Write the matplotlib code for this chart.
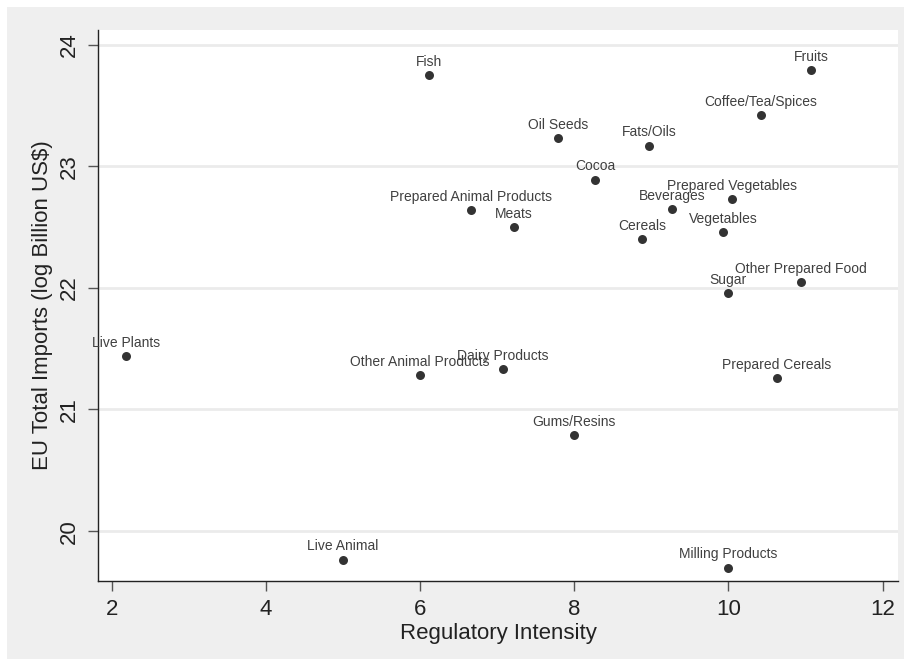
import matplotlib
matplotlib.use("Agg")
import matplotlib.pyplot as plt
from matplotlib.patches import Rectangle

plt.rcParams['font.family'] = ['Liberation Sans', 'DejaVu Sans']

categories = ["Fish", "Fruits", "Coffee/Tea/Spices", "Oil Seeds", "Fats/Oils", "Cocoa",
              "Prepared Animal Products", "Beverages", "Prepared Vegetables", "Meats",
              "Cereals", "Vegetables", "Other Prepared Food", "Sugar", "Live Plants",
              "Other Animal Products", "Dairy Products", "Prepared Cereals", "Gums/Resins",
              "Live Animal", "Milling Products"]
regulatory_intensity = [6.11, 11.07, 10.42, 7.79, 8.97, 8.27,
                        6.66, 9.27, 10.04, 7.22,
                        8.88, 9.93, 10.94, 10.00, 2.18,
                        6.00, 7.07, 10.63, 8.00,
                        5.00, 10.00]
eu_imports = [23.75, 23.79, 23.42, 23.23, 23.17, 22.89,
              22.64, 22.65, 22.73, 22.50,
              22.40, 22.46, 22.05, 21.955, 21.44,
              21.28, 21.33, 21.26, 20.79,
              19.765, 19.70]
x_ticks = [2, 4, 6, 8, 10, 12]
y_ticks = [20, 21, 22, 23, 24]

fig = plt.figure(figsize=(9.11, 6.66), dpi=100)
fig.patch.set_facecolor("white")
fig.patches.append(Rectangle((7/911, 7/666), 897/911, 652/666, transform=fig.transFigure,
                             facecolor="#efefef", edgecolor="none", zorder=-10))
ax = fig.add_axes([98/911, (666-581)/666, 800/911, 551/666])
ax.set_facecolor("white")

ax.scatter(regulatory_intensity, eu_imports, s=42, color="#333333", zorder=3, linewidths=0)
for name, xv, yv in zip(categories, regulatory_intensity, eu_imports):
    ax.annotate(name, (xv, yv), xytext=(0, 4.5), textcoords="offset points",
                ha="center", va="bottom", fontsize=10, color="#404040", zorder=4)

ax.set_xlim(1.82, 12.2)
ax.set_ylim(19.59, 24.12)
ax.set_xticks(x_ticks)
ax.set_yticks(y_ticks)
ax.yaxis.grid(True, color="#ebebeb", linewidth=2)
ax.set_axisbelow(True)
for s in ["top", "right"]:
    ax.spines[s].set_visible(False)
for s in ["left", "bottom"]:
    ax.spines[s].set_color("#222222")
    ax.spines[s].set_linewidth(1.0)
ax.tick_params(axis="both", direction="out", length=7, width=1, color="#555555",
               labelsize=16, labelcolor="#222222", pad=6)
for lab in ax.get_yticklabels():
    lab.set_rotation(90)
    lab.set_va("center")
ax.set_xlabel("Regulatory Intensity", fontsize=16, color="#222222", labelpad=2)
ax.set_ylabel("EU Total Imports (log Billion US\\$)", fontsize=16, color="#222222", labelpad=4)

fig.savefig("out.png", dpi=100, facecolor=fig.get_facecolor())
